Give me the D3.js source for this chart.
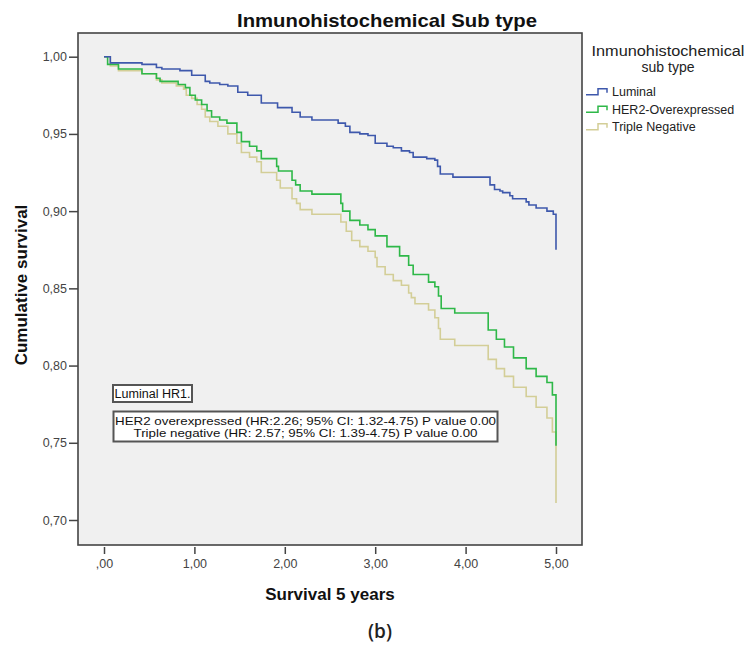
<!DOCTYPE html>
<html>
<head>
<meta charset="utf-8">
<script src="https://cdn.jsdelivr.net/npm/d3@7"></script>
<style>
  body { margin: 0; background: #fff; }
  svg { display: block; font-family: "Liberation Sans", Arial, sans-serif; }
</style>
</head>
<body>
<svg id="chart" width="747" height="645"></svg>
<script>
// kaplan-meier curves, survival by immunohistochemical sub type

// groups + colours (spss defaults)
var groups = ["Luminal", "HER2-Overexpressed", "Triple Negative"];
var groupColors = ["#3e58ac", "#2eb848", "#d3ce97"];

// axis ticks
var xTicks = [0, 1, 2, 3, 4, 5];
var xTickLabels = [",00", "1,00", "2,00", "3,00", "4,00", "5,00"];
var yTicks = [0.70, 0.75, 0.80, 0.85, 0.90, 0.95, 1.00];

// luminal
var luminalTime = [0, 0.07, 0.42, 0.58, 0.64, 0.84, 0.97, 1.12, 1.17, 1.28, 1.37, 1.48, 1.59, 1.74, 1.92, 2.08, 2.17, 2.30, 2.59, 2.67, 2.72, 2.83, 2.92, 3.00, 3.13, 3.20, 3.29, 3.38, 3.42, 3.57, 3.66, 3.69, 3.72, 3.86, 4.27, 4.32, 4.38, 4.41, 4.49, 4.52, 4.67, 4.70, 4.78, 4.90, 4.97, 5.00];
var luminalSurv = [1.000, 0.996, 0.995, 0.993, 0.992, 0.991, 0.988, 0.984, 0.983, 0.982, 0.981, 0.977, 0.975, 0.970, 0.967, 0.964, 0.961, 0.959, 0.957, 0.955, 0.951, 0.950, 0.949, 0.944, 0.942, 0.941, 0.939, 0.938, 0.935, 0.934, 0.933, 0.929, 0.924, 0.922, 0.917, 0.914, 0.913, 0.912, 0.910, 0.908, 0.906, 0.904, 0.902, 0.900, 0.898, 0.875];

// her2 overexpressed
var herTime = [0, 0.04, 0.16, 0.42, 0.58, 0.62, 0.82, 0.90, 0.95, 1.01, 1.08, 1.14, 1.19, 1.28, 1.36, 1.47, 1.52, 1.61, 1.69, 1.74, 1.91, 1.93, 2.08, 2.12, 2.17, 2.30, 2.62, 2.64, 2.72, 2.83, 2.92, 3.00, 3.13, 3.27, 3.37, 3.42, 3.59, 3.66, 3.70, 3.73, 3.88, 4.25, 4.34, 4.43, 4.53, 4.67, 4.78, 4.90, 4.96, 5.00];
var herSurv = [1.000, 0.995, 0.992, 0.989, 0.986, 0.984, 0.982, 0.980, 0.975, 0.972, 0.969, 0.965, 0.961, 0.959, 0.957, 0.951, 0.945, 0.942, 0.939, 0.934, 0.929, 0.926, 0.920, 0.917, 0.913, 0.911, 0.905, 0.900, 0.894, 0.891, 0.888, 0.884, 0.877, 0.871, 0.865, 0.859, 0.854, 0.851, 0.845, 0.837, 0.834, 0.823, 0.817, 0.812, 0.805, 0.798, 0.793, 0.789, 0.781, 0.748];

// triple negative
var tnTime = [0, 0.07, 0.16, 0.42, 0.58, 0.64, 0.80, 0.88, 0.91, 0.97, 1.03, 1.08, 1.12, 1.17, 1.26, 1.37, 1.47, 1.52, 1.61, 1.69, 1.74, 1.91, 1.95, 2.08, 2.13, 2.17, 2.30, 2.62, 2.68, 2.74, 2.83, 2.92, 3.00, 3.02, 3.11, 3.20, 3.29, 3.37, 3.40, 3.44, 3.59, 3.66, 3.70, 3.72, 3.88, 4.25, 4.34, 4.43, 4.53, 4.67, 4.78, 4.90, 4.96, 5.00];
var tnSurv = [1.000, 0.994, 0.991, 0.989, 0.985, 0.983, 0.981, 0.979, 0.975, 0.973, 0.969, 0.966, 0.961, 0.958, 0.955, 0.950, 0.944, 0.938, 0.935, 0.932, 0.925, 0.920, 0.915, 0.908, 0.905, 0.901, 0.898, 0.893, 0.887, 0.881, 0.877, 0.874, 0.870, 0.864, 0.859, 0.855, 0.852, 0.847, 0.844, 0.840, 0.836, 0.831, 0.824, 0.817, 0.813, 0.804, 0.798, 0.793, 0.786, 0.780, 0.773, 0.766, 0.757, 0.711];

// text in the boxes
var refNote = "Luminal HR1.";
var hrNotes = ["HER2 overexpressed (HR:2.26; 95% CI: 1.32-4.75) P value 0.00",
               "Triple negative (HR: 2.57; 95% CI: 1.39-4.75) P value 0.00"];

var svg = d3.select("#chart");

// plot frame
var plotLeft = 78, plotRight = 582, plotTop = 33, plotBottom = 545;

var x = d3.scaleLinear().domain([0, 5]).range([104, 556]);
var y = d3.scaleLinear().domain([0.70, 1.00]).range([520, 56.7]);

svg.append("rect")
    .attr("x", plotLeft).attr("y", plotTop)
    .attr("width", plotRight - plotLeft).attr("height", plotBottom - plotTop)
    .attr("fill", "#f0f0f0");

// curves -- draw yellow first so blue sits on top
var series = [
    { name: groups[2], color: groupColors[2], t: tnTime, s: tnSurv },
    { name: groups[1], color: groupColors[1], t: herTime, s: herSurv },
    { name: groups[0], color: groupColors[0], t: luminalTime, s: luminalSurv }
];

var line = d3.line()
    .x(function (d) { return x(d[0]); })
    .y(function (d) { return y(d[1]); })
    .curve(d3.curveStepAfter);

svg.append("g").selectAll("path")
    .data(series)
    .enter()
    .append("path")
    .attr("fill", "none")
    .attr("stroke", function (d) { return d.color; })
    .attr("stroke-width", 1.6)
    .attr("d", function (d) {
        return line(d.t.map(function (t, i) { return [t, d.s[i]]; }));
    });

// frame outline on top
svg.append("rect")
    .attr("x", plotLeft).attr("y", plotTop)
    .attr("width", plotRight - plotLeft).attr("height", plotBottom - plotTop)
    .attr("fill", "none")
    .attr("stroke", "#444")
    .attr("stroke-width", 1.6);

// y axis
var yAxis = svg.append("g")
    .attr("transform", "translate(" + plotLeft + ",0)")
    .call(d3.axisLeft(y)
        .tickValues(yTicks)
        .tickSize(9)
        .tickPadding(2)
        .tickFormat(function (d) { return d3.format(".2f")(d).replace(".", ","); }));
yAxis.select(".domain").remove();
yAxis.selectAll("line").attr("stroke", "#444").attr("stroke-width", 1.5);
yAxis.selectAll("text").attr("fill", "#444").style("font-size", "12.5px")
    .style("font-family", "'Liberation Sans', Arial, sans-serif");

// x axis (sits a bit under the frame)
var xAxis = svg.append("g")
    .attr("transform", "translate(0," + (plotBottom + 2) + ")")
    .call(d3.axisBottom(x)
        .tickValues(xTicks)
        .tickSize(7)
        .tickPadding(5)
        .tickFormat(function (d, i) { return xTickLabels[i]; }));
xAxis.select(".domain").remove();
xAxis.selectAll("line").attr("stroke", "#444").attr("stroke-width", 1.5);
xAxis.selectAll("text").attr("fill", "#444").style("font-size", "12.5px")
    .style("font-family", "'Liberation Sans', Arial, sans-serif");

// titles
svg.append("text")
    .attr("x", 387).attr("y", 27)
    .attr("text-anchor", "middle")
    .attr("textLength", 300).attr("lengthAdjust", "spacingAndGlyphs")
    .style("font-size", "19px").style("font-weight", "bold")
    .attr("fill", "#111")
    .text("Inmunohistochemical  Sub type");

svg.append("text")
    .attr("x", (plotLeft + plotRight) / 2).attr("y", 600)
    .attr("text-anchor", "middle")
    .style("font-size", "17px").style("font-weight", "bold")
    .attr("fill", "#111")
    .text("Survival 5 years");

svg.append("text")
    .attr("transform", "translate(27,285) rotate(-90)")
    .attr("text-anchor", "middle")
    .style("font-size", "17px").style("font-weight", "bold")
    .attr("fill", "#111")
    .text("Cumulative survival");

svg.append("text")
    .attr("x", 380).attr("y", 638)
    .attr("text-anchor", "middle")
    .style("font-family", "'Open Sans', sans-serif")
    .style("font-size", "19px").style("font-weight", 600)
    .attr("fill", "#222")
    .text("(b)");

// legend
var legend = svg.append("g");
legend.append("text")
    .attr("x", 668).attr("y", 56)
    .attr("text-anchor", "middle")
    .attr("textLength", 153).attr("lengthAdjust", "spacingAndGlyphs")
    .style("font-size", "14px").attr("fill", "#222")
    .text("Inmunohistochemical");
legend.append("text")
    .attr("x", 668).attr("y", 72)
    .attr("text-anchor", "middle")
    .style("font-size", "14px").attr("fill", "#222")
    .text("sub type");

var item = legend.selectAll("g.item")
    .data(groups)
    .enter()
    .append("g")
    .attr("class", "item")
    .attr("transform", function (d, i) { return "translate(0," + (91.7 + i * 17.5) + ")"; });

item.append("path")
    .attr("d", "M586,3H598V-3H607V1")
    .attr("fill", "none")
    .attr("stroke", function (d, i) { return groupColors[i]; })
    .attr("stroke-width", 1.5);

item.append("text")
    .attr("x", 612).attr("y", 4.5)
    .style("font-size", "12.5px").attr("fill", "#222")
    .text(function (d) { return d; });

// annotation boxes
var notes = svg.append("g");
notes.append("rect")
    .attr("x", 113).attr("y", 385).attr("width", 79).attr("height", 17)
    .attr("fill", "#fff").attr("stroke", "#555").attr("stroke-width", 2);
notes.append("text")
    .attr("x", 114.5).attr("y", 398)
    .attr("textLength", 76).attr("lengthAdjust", "spacingAndGlyphs")
    .style("font-size", "12px").attr("fill", "#111")
    .text(refNote);

notes.append("rect")
    .attr("x", 113.5).attr("y", 411.5).attr("width", 384).attr("height", 30)
    .attr("fill", "#fff").attr("stroke", "#555").attr("stroke-width", 2);
notes.selectAll("text.hr")
    .data(hrNotes)
    .enter()
    .append("text")
    .attr("class", "hr")
    .attr("x", 305.5)
    .attr("y", function (d, i) { return 424.5 + i * 12.5; })
    .attr("text-anchor", "middle")
    .attr("textLength", function (d, i) { return i === 0 ? 381 : 344; })
    .attr("lengthAdjust", "spacingAndGlyphs")
    .style("font-size", "11px").attr("fill", "#111")
    .text(function (d) { return d; });
</script>
</body>
</html>
